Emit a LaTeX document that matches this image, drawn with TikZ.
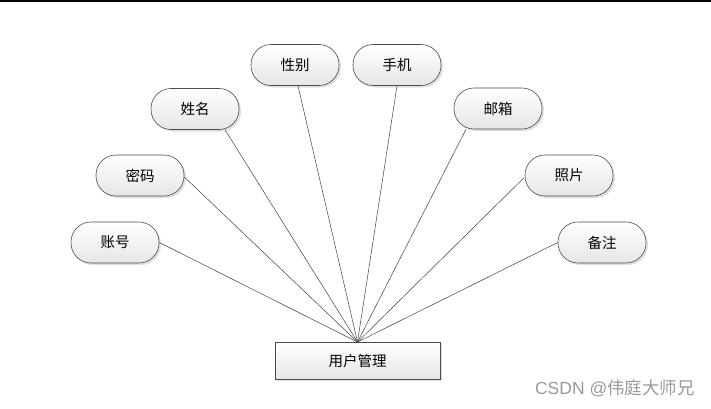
\documentclass[tikz,border=0pt]{standalone}
\usepackage{fontspec}
\setmainfont{Noto Sans CJK SC}
\newfontfamily\latinwm{Liberation Sans}
\usetikzlibrary{shadows}
\begin{document}
\begin{tikzpicture}[x=1pt,y=-1pt,
  attr/.style={draw=black!70, line width=0.6pt, rounded corners=20pt,
    minimum width=88pt, minimum height=41pt, inner sep=0pt,
    top color=white, bottom color=black!10,
    drop shadow={shadow xshift=2pt, shadow yshift=-2pt, opacity=0.25, fill=black!50},
    font=\fontsize{14.5}{16}\selectfont},
  entity/.style={draw=black!70, line width=0.6pt,
    minimum width=165pt, minimum height=37pt, inner sep=0pt,
    top color=white, bottom color=black!10,
    drop shadow={shadow xshift=2pt, shadow yshift=-2pt, opacity=0.25, fill=black!50},
    font=\fontsize{14.5}{16}\selectfont},
  link/.style={draw=black!75, line width=0.5pt}]
\useasboundingbox (0,0) rectangle (711,408);
\fill[black] (0,0) rectangle (711,1.5);
\node[entity] (main) at (357.5,360.5) {用户管理};
\coordinate (hub) at (357.5,342);
\node[attr] (zh) at (115,242.5) {账号};
\node[attr] (mm) at (140,175.5) {密码};
\node[attr] (xm) at (195,109) {姓名};
\node[attr] (xb) at (295,65) {性别};
\node[attr] (sj) at (397,65) {手机};
\node[attr] (yx) at (498,108.5) {邮箱};
\node[attr] (zp) at (569,175.5) {照片};
\node[attr] (bz) at (602,242.5) {备注};
\draw[link] (zh.east) -- (hub);
\draw[link] ([yshift=-1.5pt]mm.east) -- (hub);
\draw[link] ([xshift=30pt]xm.south) -- (hub);
\draw[link] ([xshift=3pt]xb.south) -- (hub);
\draw[link] (sj.south) -- (hub);
\draw[link] ([xshift=-32pt]yx.south) -- (hub);
\draw[link] ([xshift=-1pt,yshift=-2.5pt]zp.west) -- (hub);
\draw[link] (bz.west) -- (hub);
\node[text=black!40, font=\fontsize{17.5}{19}\selectfont, anchor=east, inner sep=0pt] (wm) at (695,388) {{\latinwm CSDN @}伟庭大师兄};
\end{tikzpicture}
\end{document}
